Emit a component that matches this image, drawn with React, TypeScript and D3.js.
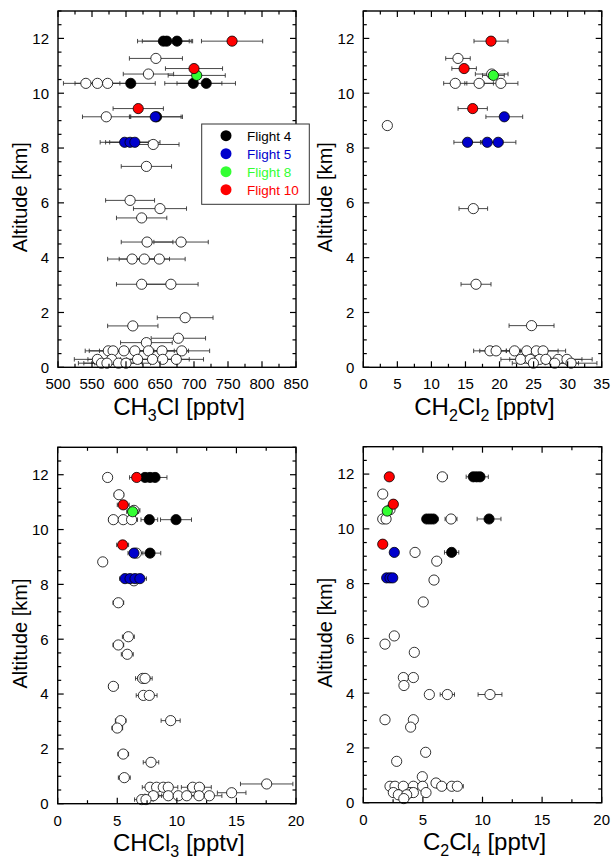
import React from 'react';
import * as d3 from 'd3';

type Pt = [number, number, number]; // [mixing ratio, altitude km, error]

const FONT = '"Liberation Sans", Arial, Helvetica, sans-serif';

const flightNames = ['Flight 4', 'Flight 5', 'Flight 8', 'Flight 10'];
const flightColors = ['#000000', '#0000cc', '#33ff33', '#ff0000'];

const altTicks = [0, 2, 4, 6, 8, 10, 12];

// CH3Cl
const ch3clOther: Pt[] = [
  [644, 11.27, 39], [633, 10.7, 37], [541, 10.36, 33], [558, 10.36, 33], [573, 10.36, 34],
  [571, 9.14, 35], [640, 8.13, 38], [630, 7.33, 37], [606, 6.09, 36], [650, 5.79, 39],
  [623, 5.45, 37], [631, 4.57, 38], [681, 4.57, 40], [609, 3.95, 36], [627, 3.95, 37],
  [649, 3.95, 38], [623, 3.03, 37], [666, 3.03, 40], [687, 1.81, 41], [610, 1.51, 37],
  [677, 1.06, 40], [630, 0.9, 38],
  [574, 0.6, 34], [581, 0.6, 35], [597, 0.6, 36], [613, 0.6, 37], [633, 0.6, 38], [653, 0.6, 39], [682, 0.6, 41],
  [558, 0.29, 34], [579, 0.29, 35], [617, 0.29, 37], [639, 0.29, 38], [654, 0.29, 39], [674, 0.29, 40],
  [564, 0.15, 34], [572, 0.15, 34], [589, 0.15, 35], [600, 0.15, 36],
];
const ch3clF4: Pt[] = [
  [655, 11.9, 38], [660, 11.9, 36], [675, 11.9, 23], [607, 10.36, 36], [699, 10.36, 42],
  [718, 10.36, 43], [645, 9.14, 38],
];
const ch3clF5: Pt[] = [[643, 9.14, 38], [598, 8.21, 36], [606, 8.21, 36], [613, 8.21, 37]];
const ch3clF8: Pt[] = [[704, 10.65, 42]];
const ch3clF10: Pt[] = [[756, 11.9, 45], [700, 10.9, 42], [618, 9.44, 37]];

// CH2Cl2
const ch2cl2Other: Pt[] = [
  [13.9, 11.27, 1.8], [18.85, 10.7, 2.4], [13.5, 10.36, 1.7], [17.0, 10.36, 2.1], [20.2, 10.36, 2.5],
  [3.53, 8.82, 0.3], [16.15, 5.79, 2.1], [16.55, 3.03, 2.2], [24.7, 1.52, 3.3],
  [18.6, 0.6, 2.4], [19.5, 0.6, 2.4], [22.2, 0.6, 2.8], [24.0, 0.6, 3.0], [25.4, 0.6, 3.2], [26.4, 0.6, 3.3],
  [23.1, 0.29, 2.9], [24.5, 0.29, 3.0], [25.9, 0.29, 3.2], [26.8, 0.29, 3.3], [28.6, 0.29, 3.5], [29.9, 0.29, 3.7],
  [24.97, 0.15, 3.1], [28.1, 0.15, 3.5], [30.5, 0.15, 3.8],
];
const ch2cl2F4: Pt[] = [];
const ch2cl2F5: Pt[] = [[20.7, 9.14, 2.7], [15.3, 8.21, 2.0], [18.2, 8.21, 2.3], [19.8, 8.21, 2.6]];
const ch2cl2F8: Pt[] = [[19.1, 10.65, 1.6]];
const ch2cl2F10: Pt[] = [[18.75, 11.9, 2.5], [14.8, 10.9, 1.8], [16.06, 9.44, 2.15]];

// CHCl3
const chcl3Other: Pt[] = [
  [4.19, 11.9, 0.35], [5.14, 11.27, 0.4], [6.4, 10.7, 0.5], [4.67, 10.36, 0.4], [5.5, 10.36, 0.45],
  [6.2, 10.36, 0.5], [6.6, 9.14, 0.55], [3.78, 8.82, 0.3], [6.4, 8.13, 0.5], [5.09, 7.33, 0.45],
  [5.93, 6.09, 0.5], [5.09, 5.79, 0.45], [5.84, 5.45, 0.5], [7.13, 4.57, 0.6], [7.33, 4.57, 0.6],
  [4.67, 4.28, 0.4], [7.19, 3.95, 0.6], [7.69, 3.95, 0.65], [5.29, 3.03, 0.45], [9.48, 3.03, 0.8],
  [5.0, 2.76, 0.45], [5.5, 1.81, 0.45], [7.83, 1.51, 0.65], [5.59, 0.95, 0.5], [17.54, 0.72, 2.2],
  [7.75, 0.6, 0.65], [8.3, 0.6, 0.7], [8.86, 0.6, 0.75], [9.28, 0.6, 0.8], [11.33, 0.6, 0.95], [11.89, 0.6, 1.0],
  [14.6, 0.4, 1.2],
  [8.02, 0.29, 0.7], [9.28, 0.29, 0.8], [10.12, 0.29, 0.85], [10.83, 0.29, 0.9], [11.86, 0.29, 1.0], [12.73, 0.29, 1.05],
  [7.05, 0.15, 0.6], [7.41, 0.15, 0.6],
];
const chcl3F4: Pt[] = [
  [7.33, 11.9, 0.6], [7.75, 11.9, 0.6], [8.17, 11.9, 1.0], [7.69, 10.36, 0.7], [9.93, 10.36, 1.3], [7.75, 9.14, 0.9],
];
const chcl3F5: Pt[] = [[6.4, 9.14, 0.5], [5.65, 8.21, 0.45], [6.07, 8.21, 0.5], [6.49, 8.21, 0.5], [6.9, 8.21, 0.55]];
const chcl3F8: Pt[] = [[6.29, 10.65, 0.5]];
const chcl3F10: Pt[] = [[6.63, 11.9, 0.6], [5.5, 10.9, 0.5], [5.45, 9.44, 0.5]];

// C2Cl4
const c2cl4Other: Pt[] = [
  [6.63, 11.9, 0.4], [1.63, 11.27, 0.1], [2.24, 10.7, 0.12], [1.63, 10.36, 0.1], [1.91, 10.36, 0.11],
  [7.36, 10.36, 0.5], [4.34, 9.14, 0.25], [6.16, 8.82, 0.35], [5.93, 8.13, 0.35], [5.03, 7.33, 0.3],
  [2.6, 6.09, 0.15], [1.82, 5.79, 0.1], [4.28, 5.49, 0.25], [3.36, 4.57, 0.2], [4.2, 4.57, 0.25],
  [3.41, 4.28, 0.2], [5.54, 3.95, 0.3], [7.05, 3.95, 0.6], [10.63, 3.95, 1.0], [1.82, 3.03, 0.1],
  [4.2, 3.03, 0.25], [3.97, 2.76, 0.23], [5.23, 1.84, 0.3], [2.8, 1.51, 0.16], [4.95, 0.95, 0.3],
  [6.1, 0.72, 0.35],
  [2.24, 0.6, 0.13], [2.66, 0.6, 0.15], [3.36, 0.6, 0.2], [4.2, 0.6, 0.25], [4.98, 0.6, 0.3],
  [6.58, 0.6, 0.4], [7.42, 0.6, 0.45], [7.89, 0.6, 0.5],
  [2.52, 0.37, 0.15], [3.92, 0.37, 0.23], [4.2, 0.37, 0.25], [5.26, 0.37, 0.3],
  [2.94, 0.29, 0.17], [3.64, 0.29, 0.2], [3.4, 0.15, 0.2],
];
const c2cl4F4: Pt[] = [
  [9.23, 11.9, 0.6], [9.51, 11.9, 0.6], [9.79, 11.9, 0.7], [5.32, 10.36, 0.35], [5.6, 10.36, 0.35],
  [5.87, 10.36, 0.4], [10.55, 10.36, 1.0], [7.41, 9.14, 0.6],
];
const c2cl4F5: Pt[] = [[2.6, 9.14, 0.15], [1.96, 8.21, 0.12], [2.24, 8.21, 0.12], [2.47, 8.21, 0.14]];
const c2cl4F8: Pt[] = [[2.01, 10.65, 0.12]];
const c2cl4F10: Pt[] = [[2.18, 11.9, 0.12], [2.52, 10.9, 0.15], [1.63, 9.44, 0.1]];

// axis titles: alternating normal / subscript pieces
const ch3clTitle = ['CH', '3', 'Cl [pptv]'];
const ch2cl2Title = ['CH', '2', 'Cl', '2', ' [pptv]'];
const chcl3Title = ['CHCl', '3', ' [pptv]'];
const c2cl4Title = ['C', '2', 'Cl', '4', ' [pptv]'];

interface PanelProps {
  left: number;
  right: number;
  top: number;
  bottom: number;
  xDomain: [number, number];
  xTicks: number[];
  xMinor: number;
  groups: { pts: Pt[]; fill: string }[];
  title: string[];
}

const Panel: React.FC<PanelProps> = ({ left, right, top, bottom, xDomain, xTicks, xMinor, groups, title }) => {
  const x = d3.scaleLinear().domain(xDomain).range([left, right]);
  const y = d3.scaleLinear().domain([0, 13]).range([bottom, top]);
  const xMinorTicks = d3.range(xDomain[0], xDomain[1] + 1e-9, xMinor).filter(v => !xTicks.includes(v));
  const yMinorTicks = d3.range(0, 13.01, 0.5).filter(v => !altTicks.includes(v));
  const major = 6;
  const minor = 3.5;

  return (
    <g>
      {/* error bars under the markers */}
      <g stroke="#333" strokeWidth={0.9}>
        {groups.map((g, gi) =>
          g.pts.map((p, i) => {
            const cy = y(p[1]);
            const xa = Math.max(x(p[0] - p[2]), left);
            const xb = Math.min(x(p[0] + p[2]), right);
            return (
              <g key={`e${gi}-${i}`}>
                <line x1={xa} x2={xb} y1={cy} y2={cy} />
                <line x1={xa} x2={xa} y1={cy - 2.2} y2={cy + 2.2} />
                <line x1={xb} x2={xb} y1={cy - 2.2} y2={cy + 2.2} />
              </g>
            );
          })
        )}
      </g>
      {groups.map((g, gi) =>
        g.pts.map((p, i) => (
          <circle key={`c${gi}-${i}`} cx={x(p[0])} cy={y(p[1])} r={5.1} fill={g.fill} stroke="#000" strokeWidth={0.8} />
        ))
      )}

      {/* frame and inward ticks on all sides */}
      <rect x={left} y={top} width={right - left} height={bottom - top} fill="none" stroke="#000" strokeWidth={1.4} />
      <g stroke="#000" strokeWidth={1.2}>
        {xTicks.map(t => (
          <g key={`xt${t}`}>
            <line x1={x(t)} x2={x(t)} y1={bottom} y2={bottom - major} />
            <line x1={x(t)} x2={x(t)} y1={top} y2={top + major} />
          </g>
        ))}
        {xMinorTicks.map(t => (
          <g key={`xm${t}`}>
            <line x1={x(t)} x2={x(t)} y1={bottom} y2={bottom - minor} />
            <line x1={x(t)} x2={x(t)} y1={top} y2={top + minor} />
          </g>
        ))}
        {altTicks.map(t => (
          <g key={`yt${t}`}>
            <line x1={left} x2={left + major} y1={y(t)} y2={y(t)} />
            <line x1={right} x2={right - major} y1={y(t)} y2={y(t)} />
          </g>
        ))}
        {yMinorTicks.map(t => (
          <g key={`ym${t}`}>
            <line x1={left} x2={left + minor} y1={y(t)} y2={y(t)} />
            <line x1={right} x2={right - minor} y1={y(t)} y2={y(t)} />
          </g>
        ))}
      </g>

      <g fontFamily={FONT} fontSize={15} fill="#000">
        {xTicks.map(t => (
          <text key={`xl${t}`} x={x(t)} y={bottom + 22} textAnchor="middle">{t}</text>
        ))}
        {altTicks.map(t => (
          <text key={`yl${t}`} x={left - 9} y={y(t)} dy="0.36em" textAnchor="end">{t}</text>
        ))}
      </g>

      <text
        transform={`translate(${left - 31},${(top + bottom) / 2 + 8}) rotate(-90)`}
        textAnchor="middle"
        fontFamily={FONT}
        fontSize={20}
      >
        Altitude [km]
      </text>
      <text x={(left + right) / 2 + 2} y={bottom + 47.5} textAnchor="middle" fontFamily={FONT} fontSize={24}>
        {title.map((part, i) => {
          const isSub = i % 2 === 1;
          const prevSub = i > 0 && !isSub;
          return (
            <tspan key={i} dy={isSub ? 6 : prevSub ? -6 : 0} fontSize={isSub ? 16 : 24}>
              {part}
            </tspan>
          );
        })}
      </text>
    </g>
  );
};

const Legend: React.FC = () => (
  <g fontFamily={FONT} fontSize={13.5}>
    <rect x={201.7} y={124} width={107.6} height={80.3} fill="#fff" stroke="#333" strokeWidth={1} />
    {flightNames.map((name, i) => (
      <g key={name}>
        <circle cx={226} cy={135.7 + i * 18} r={5.5} fill={flightColors[i]} />
        <text x={247} y={135.7 + i * 18 + 5} fill={flightColors[i]}>{name}</text>
      </g>
    ))}
  </g>
);

const groupsOf = (other: Pt[], f4: Pt[], f5: Pt[], f8: Pt[], f10: Pt[]) => [
  { pts: other, fill: '#ffffff' },
  { pts: f4, fill: flightColors[0] },
  { pts: f5, fill: flightColors[1] },
  { pts: f8, fill: flightColors[2] },
  { pts: f10, fill: flightColors[3] },
];

export default function App() {
  return (
    <svg width={614} height={862} style={{ position: 'absolute', left: 0, top: 0, background: '#fff' }}>
      <Panel
        left={58} right={296} top={11} bottom={367.3}
        xDomain={[500, 850]} xTicks={d3.range(500, 851, 50)} xMinor={25}
        groups={groupsOf(ch3clOther, ch3clF4, ch3clF5, ch3clF8, ch3clF10)}
        title={ch3clTitle}
      />
      <Panel
        left={363.3} right={601.7} top={11} bottom={367.3}
        xDomain={[0, 35]} xTicks={d3.range(0, 36, 5)} xMinor={2.5}
        groups={groupsOf(ch2cl2Other, ch2cl2F4, ch2cl2F5, ch2cl2F8, ch2cl2F10)}
        title={ch2cl2Title}
      />
      <Panel
        left={57.7} right={296} top={447.3} bottom={803.7}
        xDomain={[0, 20]} xTicks={d3.range(0, 21, 5)} xMinor={2.5}
        groups={groupsOf(chcl3Other, chcl3F4, chcl3F5, chcl3F8, chcl3F10)}
        title={chcl3Title}
      />
      <Panel
        left={363.3} right={601.7} top={446.7} bottom={802.7}
        xDomain={[0, 20]} xTicks={d3.range(0, 21, 5)} xMinor={2.5}
        groups={groupsOf(c2cl4Other, c2cl4F4, c2cl4F5, c2cl4F8, c2cl4F10)}
        title={c2cl4Title}
      />
      <Legend />
    </svg>
  );
}
